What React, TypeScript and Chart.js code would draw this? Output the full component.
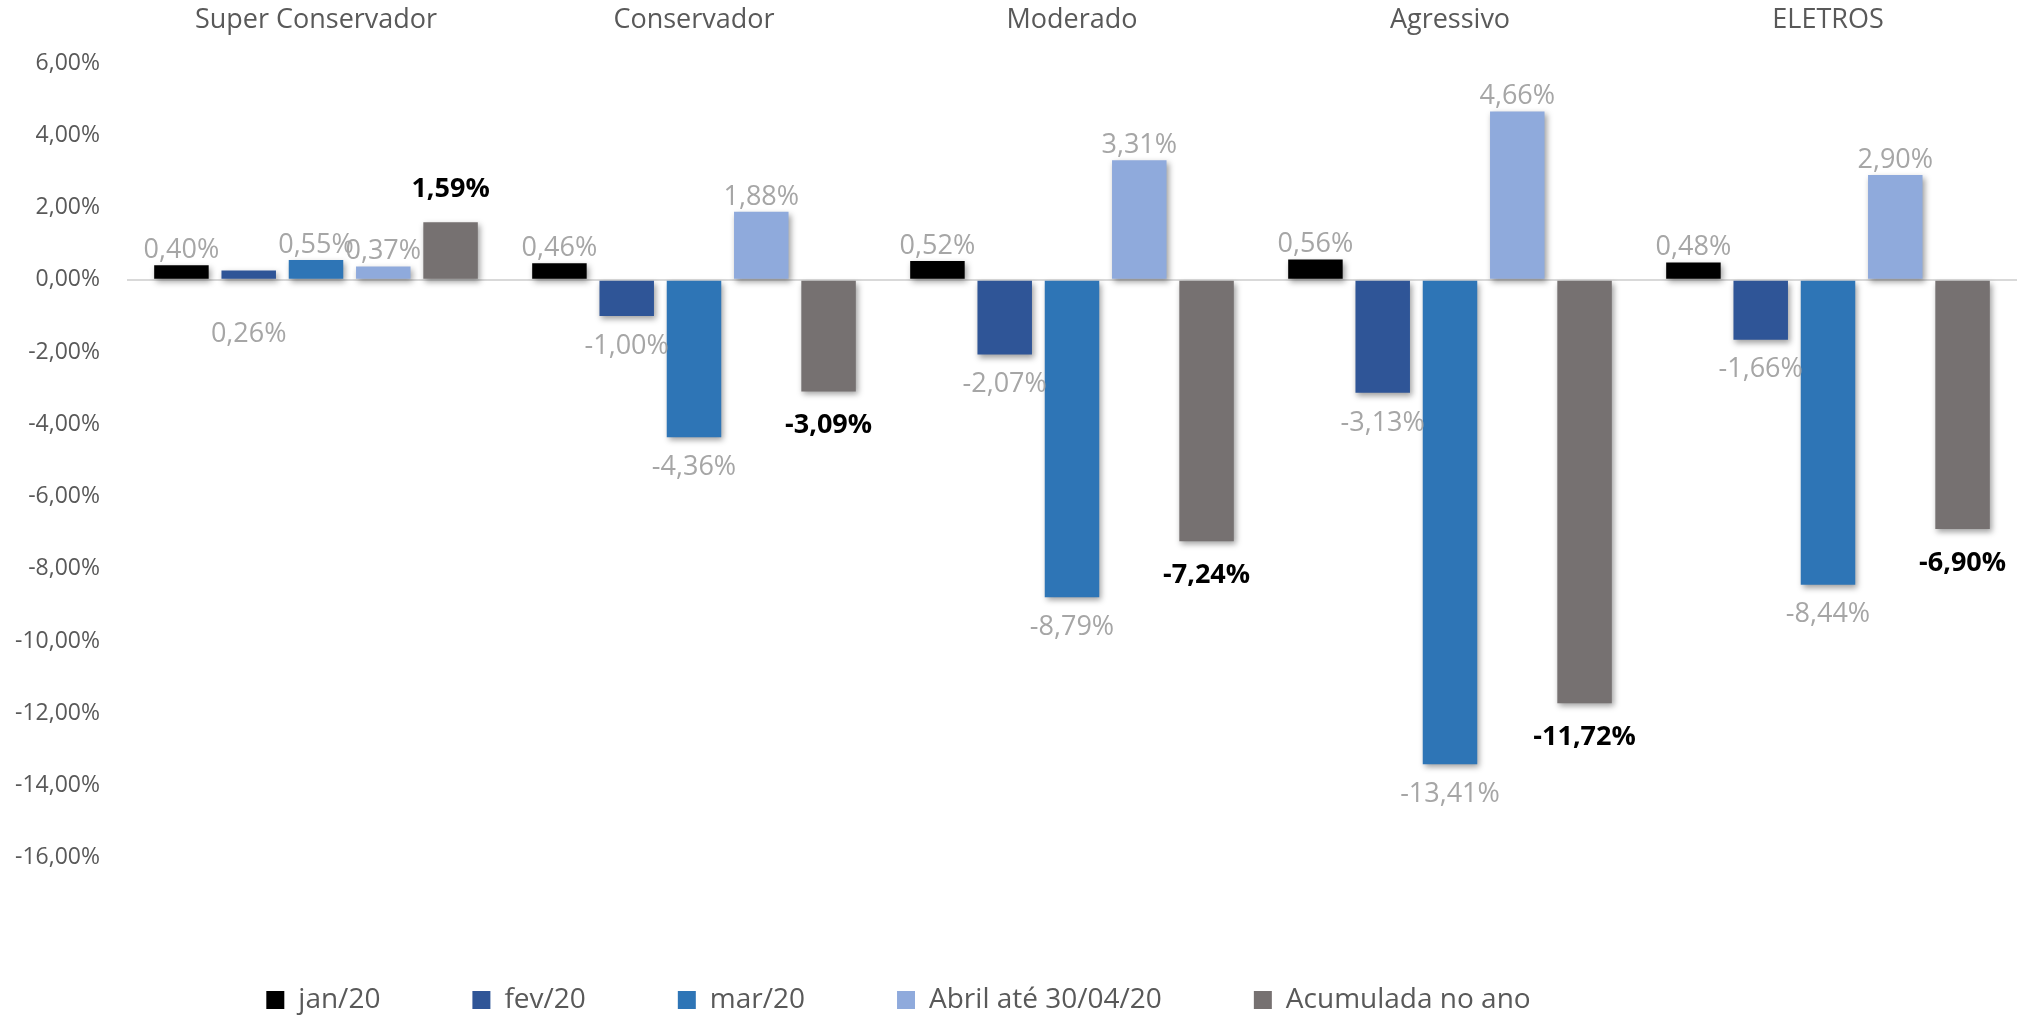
import React, { useEffect, useRef } from "react";
import { Chart, registerables } from "chart.js";

Chart.register(...registerables);

// ---- data ----
const categories = ["Super Conservador", "Conservador", "Moderado", "Agressivo", "ELETROS"];
const seriesNames = ["jan/20", "fev/20", "mar/20", "Abril até 30/04/20", "Acumulada no ano"];
const jan20 = [0.4, 0.46, 0.52, 0.56, 0.48];
const fev20 = [0.26, -1.0, -2.07, -3.13, -1.66];
const mar20 = [0.55, -4.36, -8.79, -13.41, -8.44];
const abr20 = [0.37, 1.88, 3.31, 4.66, 2.9];
const acumulada = [1.59, -3.09, -7.24, -11.72, -6.9];
const seriesColors = ["#000000", "#2F5597", "#2E75B6", "#8FAADC", "#767171"];
const yMin = -17;
const yMax = 6;
const yStep = 2;

const W = 2028;
const H = 1016;
const CANVAS_H = 1024;
const FONT = '"Open Sans", sans-serif';
const TEXT = "#595959";

const fmt = (v: number) => v.toFixed(2).replace(".", ",") + "%";

const shadowPlugin = {
  id: "barShadow",
  beforeDatasetsDraw(chart: any) {
    const ctx = chart.ctx;
    ctx.save();
    ctx.shadowColor = "rgba(0,0,0,0.38)";
    ctx.shadowBlur = 6;
    ctx.shadowOffsetX = 2;
    ctx.shadowOffsetY = 3;
  },
  afterDatasetsDraw(chart: any) {
    chart.ctx.restore();
  },
};

const valueLabels = {
  id: "valueLabels",
  afterDraw(chart: any, _args: any, opts: any) {
    const ctx = chart.ctx;
    chart.data.datasets.forEach((ds: any, di: number) => {
      const meta = chart.getDatasetMeta(di);
      const bold = di === opts.boldIndex;
      ctx.save();
      ctx.font = `${bold ? "bold " : ""}${opts.size}px ${FONT}`;
      ctx.fillStyle = bold ? "#000000" : "#A6A6A6";
      ctx.textAlign = "center";
      ctx.textBaseline = "middle";
      meta.data.forEach((bar: any, i: number) => {
        const v = ds.data[i];
        let y: number;
        if (opts.belowAxis.includes(`${di}:${i}`)) y = bar.base + opts.belowAxisGap;
        else if (v >= 0) y = bar.y - (bold ? opts.aboveBold : opts.above);
        else y = bar.y + (bold ? opts.belowBold : opts.below);
        ctx.fillText(fmt(v), bar.x, y);
      });
      ctx.restore();
    });
  },
};

const legendShift = {
  id: "legendShift",
  afterLayout(chart: any, _args: any, opts: any) {
    const l = chart.legend;
    if (l) {
      l.left += opts.dx;
      l.right += opts.dx;
    }
  },
};

export default function App() {
  const ref = useRef<HTMLCanvasElement | null>(null);

  useEffect(() => {
    if (!ref.current) return;
    const values = [jan20, fev20, mar20, abr20, acumulada];
    const chart = new Chart(ref.current, {
      type: "bar",
      data: {
        labels: categories,
        datasets: seriesNames.map((name, i) => ({
          label: name,
          data: values[i],
          backgroundColor: seriesColors[i],
          borderWidth: 0,
          categoryPercentage: 0.89,
          barPercentage: 0.81,
        })),
      },
      options: {
        responsive: false,
        animation: false,
        layout: { padding: { left: 0, right: 11, top: 0, bottom: 0 } },
        scales: {
          x: {
            position: "top",
            grid: { display: false, drawTicks: false },
            border: { display: false },
            ticks: {
              font: { family: FONT, size: 27 },
              color: TEXT,
              padding: 26,
              maxRotation: 0,
              autoSkip: false,
            },
            afterFit: (s: any) => {
              s.height = 63;
            },
          },
          y: {
            min: yMin,
            max: yMax,
            border: { display: false },
            grid: {
              drawTicks: false,
              lineWidth: 2,
              color: (ctx: any) => (ctx.tick && ctx.tick.value === 0 ? "#D9D9D9" : "rgba(0,0,0,0)"),
            },
            ticks: {
              stepSize: yStep,
              includeBounds: false,
              font: { family: FONT, size: 23 },
              color: TEXT,
              padding: 27,
              callback: (v: any) => fmt(Number(v)),
            },
            afterFit: (s: any) => {
              s.width = 127;
            },
          },
        },
        plugins: {
          legend: {
            position: "bottom",
            labels: {
              boxWidth: 18,
              boxHeight: 18,
              padding: 92,
              color: TEXT,
              font: { family: FONT, size: 28 },
            },
          },
          tooltip: { enabled: false },
          valueLabels: {
            size: 27,
            boldIndex: 4,
            above: 15,
            aboveBold: 33,
            below: 30,
            belowBold: 34,
            belowAxis: ["1:0"],
            belowAxisGap: 56,
          },
          legendShift: { dx: -110 },
        } as any,
      },
      plugins: [shadowPlugin, valueLabels, legendShift],
    });
    return () => chart.destroy();
  }, []);

  return (
    <div
      style={{
        position: "fixed",
        left: 0,
        top: 0,
        width: W,
        height: H,
        overflow: "hidden",
        background: "#ffffff",
      }}
    >
      <canvas ref={ref} width={W} height={CANVAS_H} style={{ width: W, height: CANVAS_H, display: "block" }} />
    </div>
  );
}
